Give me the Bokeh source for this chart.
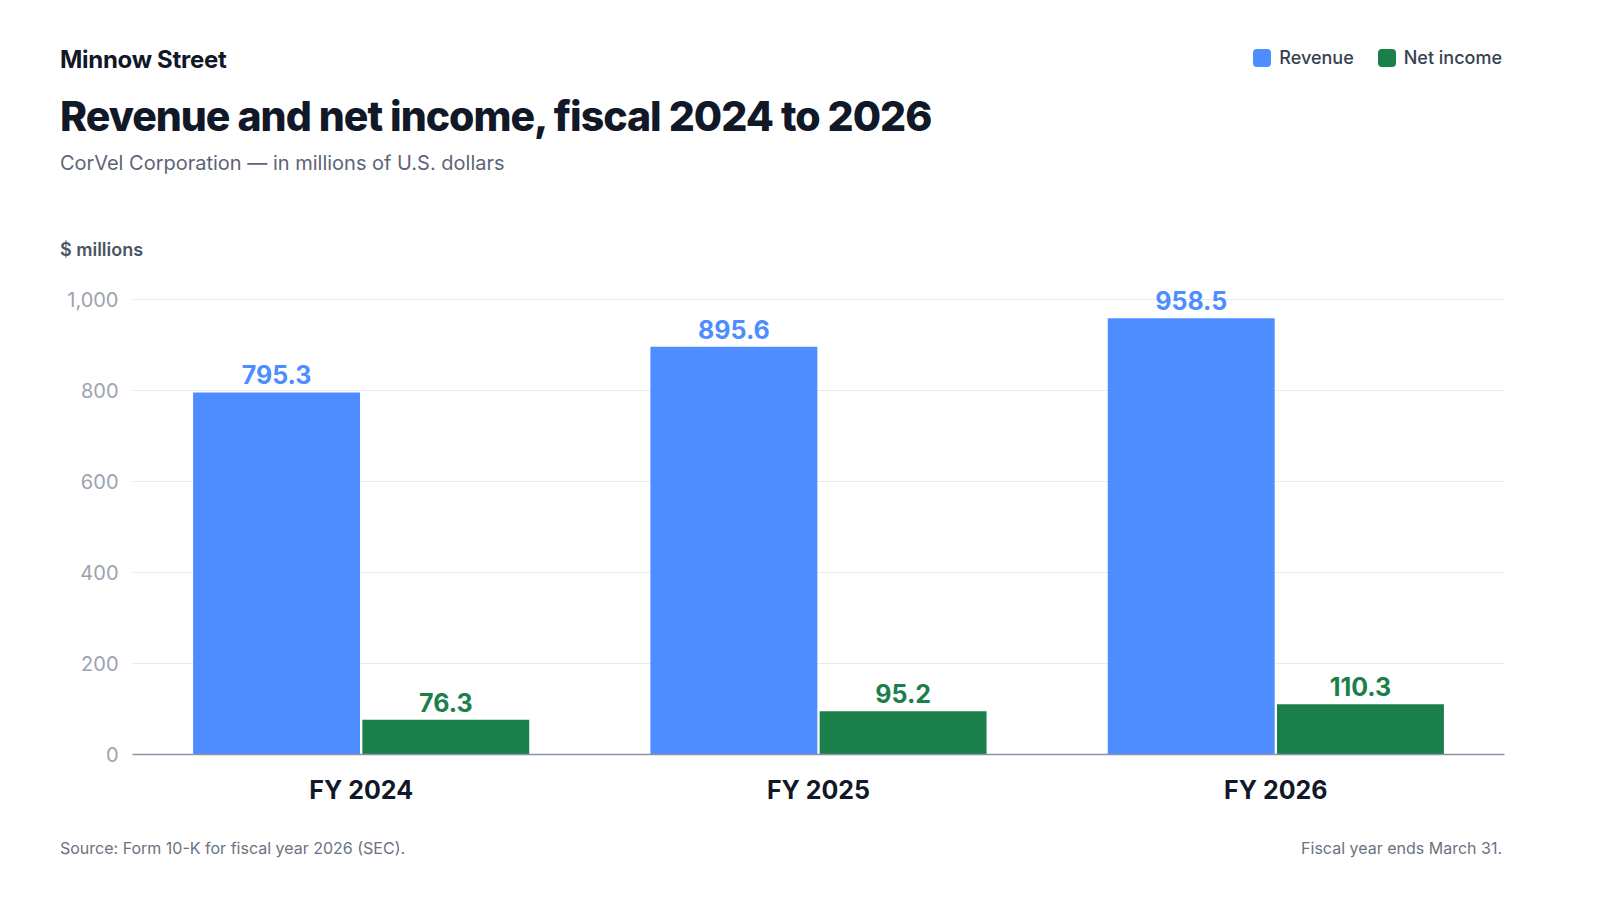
from bokeh.plotting import figure
from bokeh.models import FactorRange, ColumnDataSource, Div, NumeralTickFormatter
from bokeh.transform import dodge
from bokeh.layouts import column
from bokeh.core.properties import value
from bokeh.embed import file_html
from bokeh.resources import INLINE

years = ["FY 2024", "FY 2025", "FY 2026"]
revenue = [795.3, 895.6, 958.5]
net_income = [76.3, 95.2, 110.3]
yticks = [0, 200, 400, 600, 800, 1000]

BLUE = "#4d8dff"
GREEN = "#1b7f4b"
FONT = "Inter"
W = 1584

src = ColumnDataSource(dict(
    x=years, rev=revenue, ni=net_income,
    rl=[f"{v:.1f}" for v in revenue], nl=[f"{v:.1f}" for v in net_income]))

header = Div(width=W, height=254, text=f"""
<div style="position:relative;width:{W}px;height:254px;font-family:Inter,sans-serif;">
 <div style="position:absolute;left:55px;top:38px;font-size:24px;font-weight:700;color:#111827;letter-spacing:-0.3px">Minnow Street</div>
 <div style="position:absolute;left:55px;top:82px;font-size:41px;font-weight:800;color:#111827;letter-spacing:-1px">Revenue and net income, fiscal 2024 to 2026</div>
 <div style="position:absolute;left:55px;top:144px;font-size:20px;color:#5b6478">CorVel Corporation — in millions of U.S. dollars</div>
 <div style="position:absolute;left:55px;top:232px;font-size:18px;font-weight:600;color:#4b5563">$ millions</div>
 <div style="position:absolute;right:87px;top:40px;font-size:18px;font-weight:500;color:#374151;display:flex;align-items:center;gap:8px">
  <span style="display:inline-block;width:18px;height:18px;border-radius:4px;background:{BLUE}"></span>Revenue
  <span style="display:inline-block;width:18px;height:18px;border-radius:4px;background:{GREEN};margin-left:16px"></span>Net income
 </div>
</div>""")

p = figure(x_range=FactorRange(*years, range_padding=0.0), y_range=(0, 1050),
           width=W, height=548, output_backend="svg", toolbar_location=None,
           min_border_left=132, min_border_right=80, min_border_top=12, min_border_bottom=58)
p.outline_line_color = None
p.vbar(x=dodge("x", -0.185, range=p.x_range), top="rev", width=0.365, source=src,
       fill_color=BLUE, line_color=None)
p.vbar(x=dodge("x", 0.185, range=p.x_range), top="ni", width=0.365, source=src,
       fill_color=GREEN, line_color=None)
p.text(x=dodge("x", -0.185, range=p.x_range), y="rev", text="rl", source=src,
       text_align="center", text_baseline="bottom", y_offset=-8,
       text_font=value(FONT), text_font_size="25px", text_font_style="bold", text_color=BLUE)
p.text(x=dodge("x", 0.185, range=p.x_range), y="ni", text="nl", source=src,
       text_align="center", text_baseline="bottom", y_offset=-8,
       text_font=value(FONT), text_font_size="25px", text_font_style="bold", text_color=GREEN)

p.yaxis.ticker = yticks
p.yaxis.formatter = NumeralTickFormatter(format="0,0")
p.yaxis.axis_line_color = None
p.yaxis.major_tick_line_color = None
p.yaxis.minor_tick_line_color = None
p.yaxis.major_label_text_font = FONT
p.yaxis.major_label_text_font_size = "20px"
p.yaxis.major_label_text_color = "#9ca3af"
p.yaxis.major_label_standoff = 8
p.xaxis.axis_line_color = "#8a93a6"
p.xaxis.axis_line_width = 1.5
p.xaxis.major_tick_line_color = None
p.xaxis.major_label_text_font = FONT
p.xaxis.major_label_text_font_size = "25px"
p.xaxis.major_label_text_font_style = "bold"
p.xaxis.major_label_text_color = "#111827"
p.xaxis.major_label_standoff = 14
p.xgrid.grid_line_color = None
p.ygrid.grid_line_color = "#e8eaee"

footer = Div(width=W, height=80, text=f"""
<div style="position:relative;width:{W}px;height:80px;font-family:Inter,sans-serif;font-size:16px;color:#6b7280">
 <div style="position:absolute;left:55px;top:20px">Source: Form 10-K for fiscal year 2026 (SEC).</div>
 <div style="position:absolute;right:87px;top:20px">Fiscal year ends March 31.</div>
</div>""")

layout = column(header, p, footer, spacing=0)
open("out.html", "w").write(file_html(layout, INLINE))
